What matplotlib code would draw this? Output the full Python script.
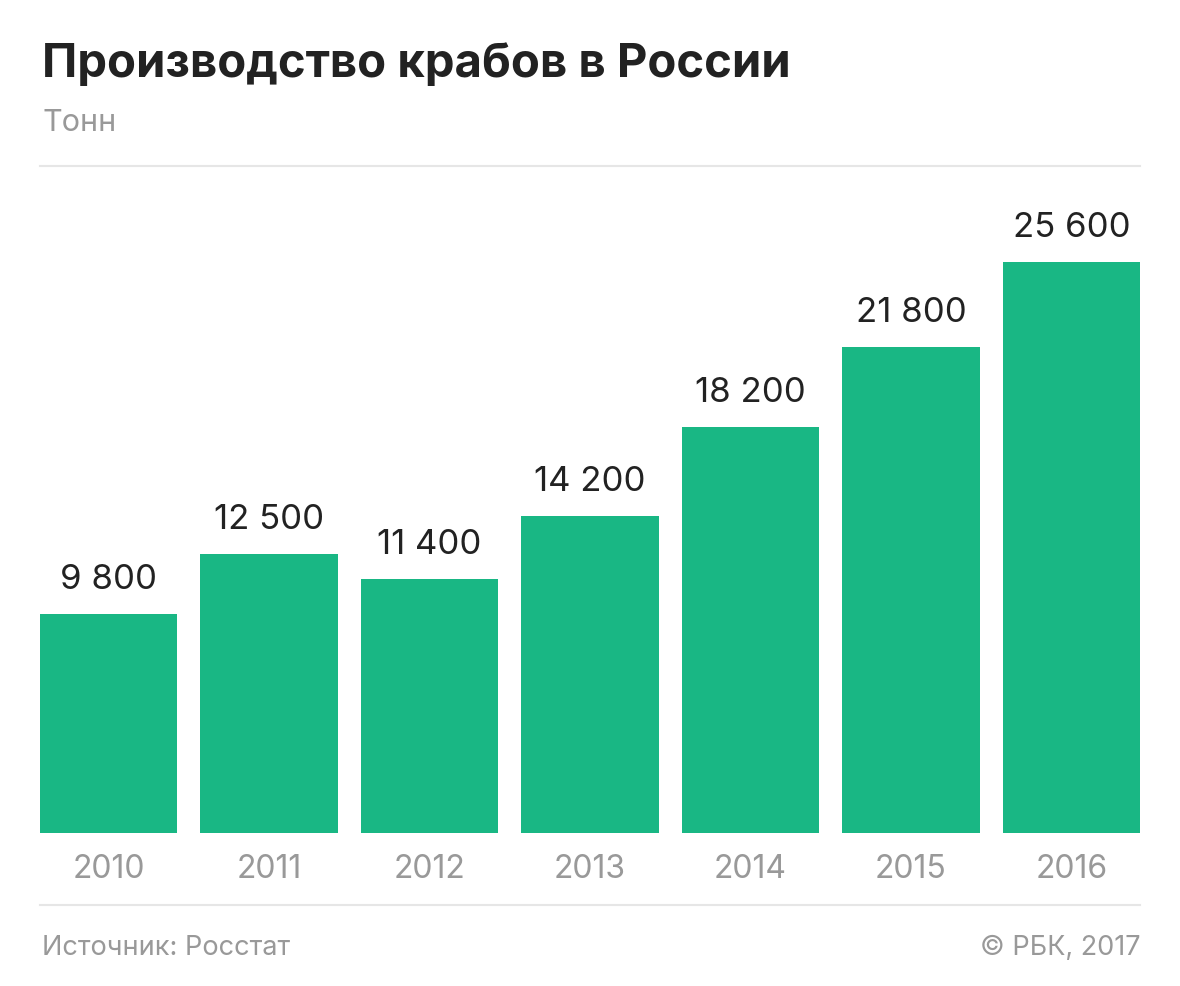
import matplotlib.pyplot as plt
from matplotlib.lines import Line2D

years = ["2010", "2011", "2012", "2013", "2014", "2015", "2016"]
values = [9800, 12500, 11400, 14200, 18200, 21800, 25600]

green = "#19b784"
gray = "#999999"
rule = "#e6e6e6"

plt.rcParams["font.family"] = ["Inter", "DejaVu Sans"]

W, H = 1180, 986
fig = plt.figure(figsize=(W / 100, H / 100), dpi=100)

# axes: x 40..1140 px, y 262..833 px (from top)
ax = fig.add_axes([40 / W, (H - 833) / H, 1100 / W, (833 - 262) / H])
x = list(range(len(years)))
ax.bar(x, values, width=0.855, color=green)
ax.set_xlim(-0.4275, 6.4275)
ax.set_ylim(0, 25600)
ax.set_xticks(x)
ax.set_xticklabels(years, fontsize=23, color=gray)
ax.tick_params(axis="x", length=0, pad=15)
ax.set_yticks([])
for s in ax.spines.values():
    s.set_visible(False)

for xi, v in zip(x, values):
    lbl = f"{v:,}".replace(",", " ")
    ax.annotate(lbl, (xi, v), xytext=(0, 18), textcoords="offset points",
                ha="center", va="baseline", fontsize=25, color="#222222",
                annotation_clip=False)

# header
fig.text(42 / W, 1 - 77 / H, "Производство крабов в России", fontsize=34,
         fontweight="bold", color="#222222", ha="left", va="baseline")
fig.text(42 / W, 1 - 131 / H, "Тонн", fontsize=22, color=gray,
         ha="left", va="baseline")

# rules
for yy in (166, 905):
    fig.add_artist(Line2D([40 / W, 1140 / W], [1 - yy / H, 1 - yy / H],
                          color=rule, lw=1.5))

# footer
fig.text(42 / W, 1 - 955 / H, "Источник: Росстат", fontsize=19.5, color=gray,
         ha="left", va="baseline")
fig.text(1140 / W, 1 - 955 / H, "© РБК, 2017", fontsize=19.5, color=gray,
         ha="right", va="baseline")

fig.savefig("out.png", dpi=100)
